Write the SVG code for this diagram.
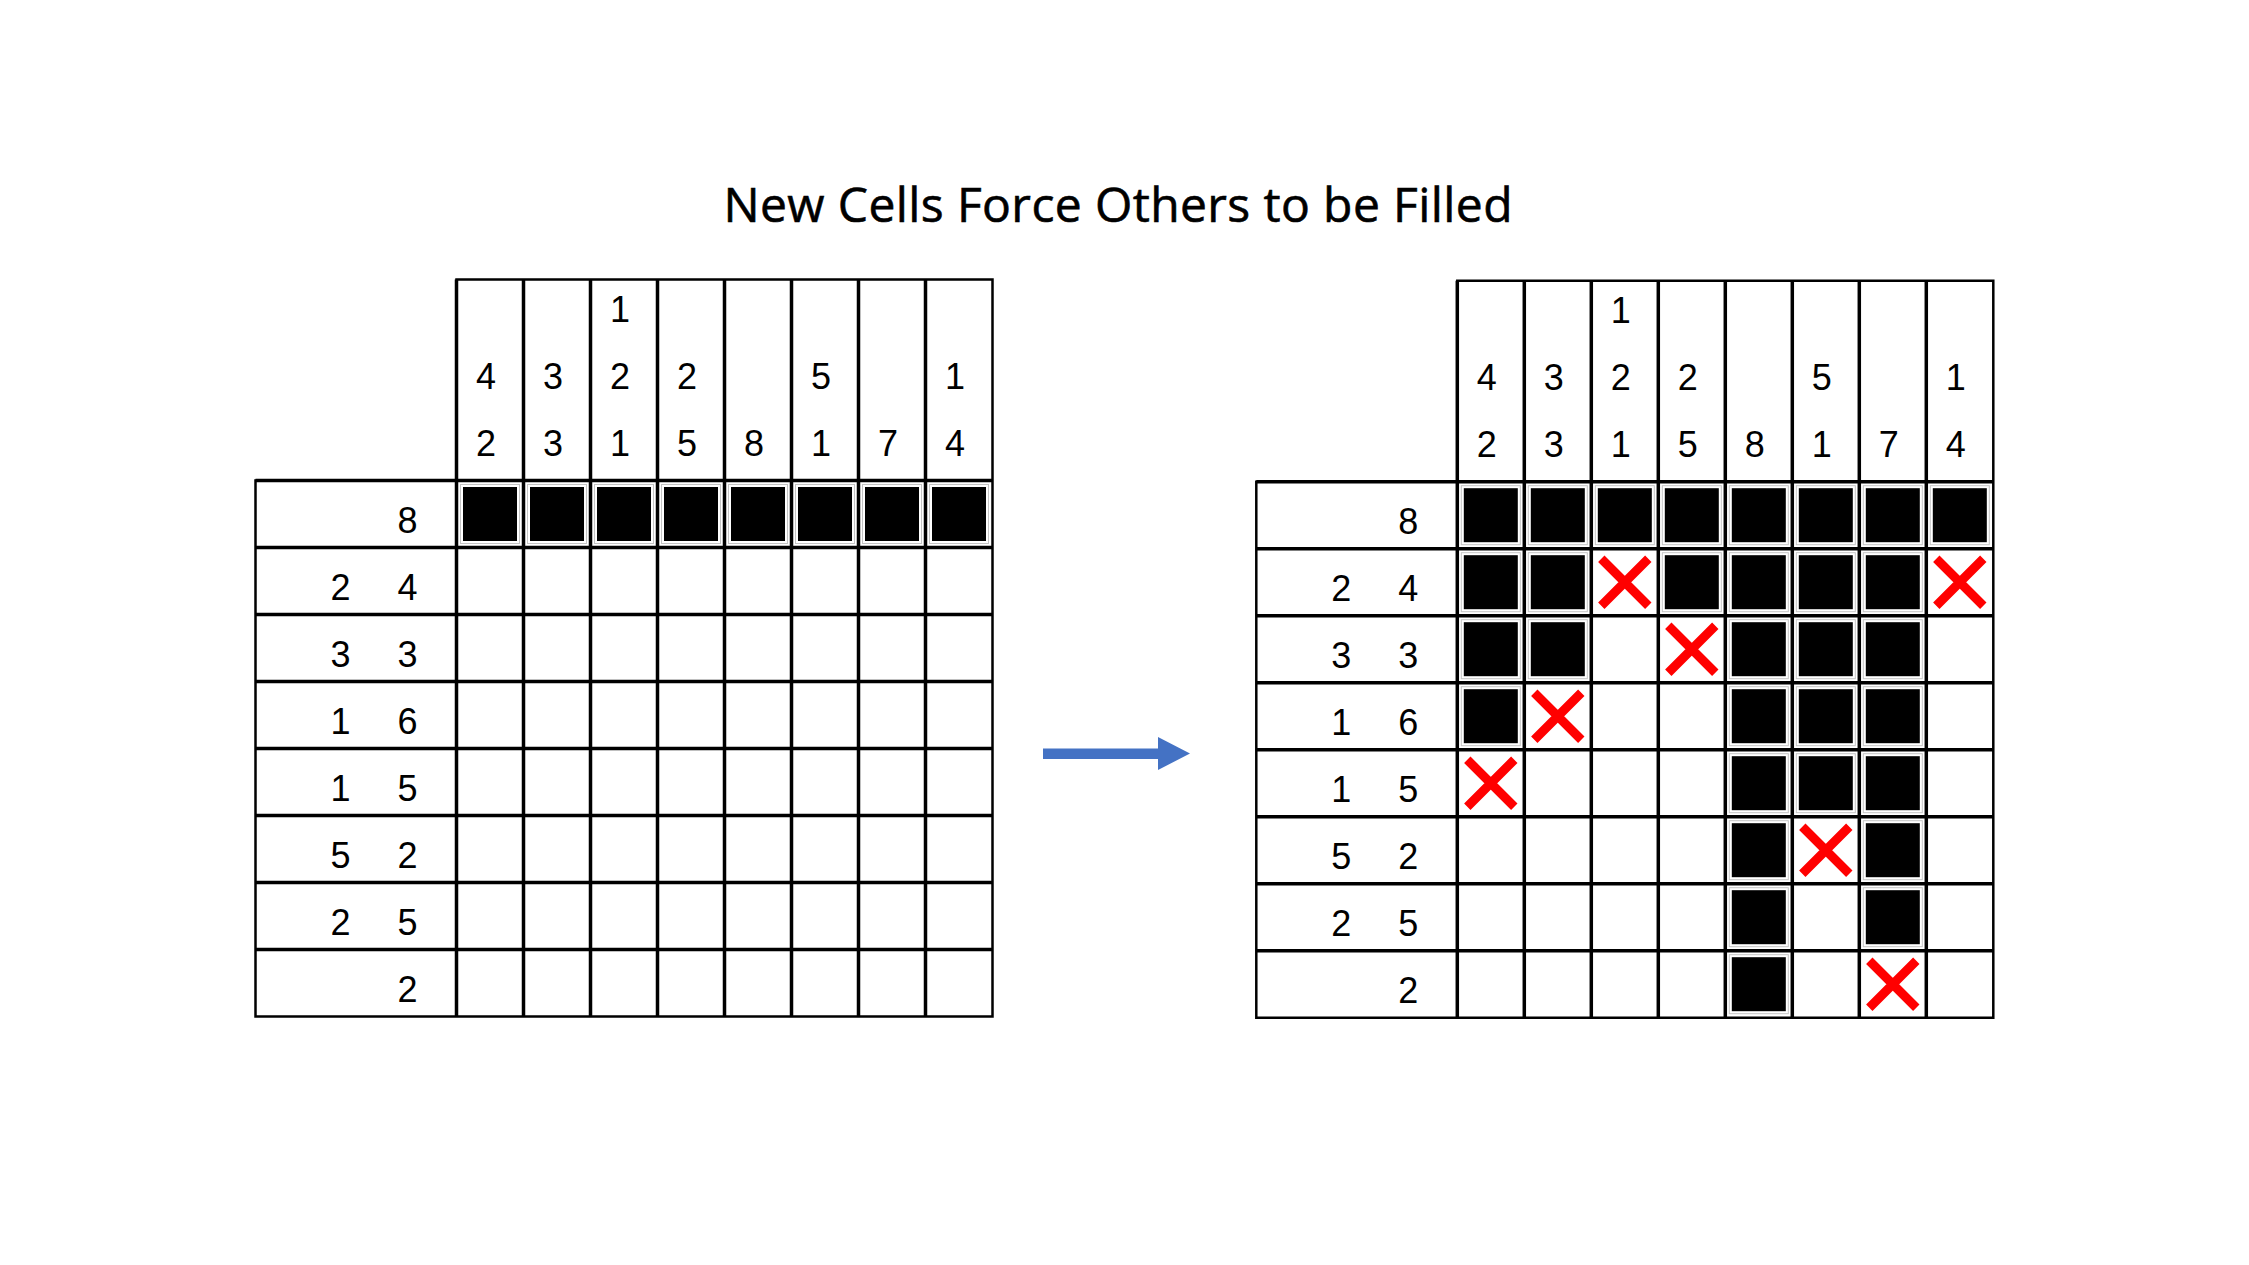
<svg xmlns="http://www.w3.org/2000/svg" xmlns:xlink="http://www.w3.org/1999/xlink" width="2249" height="1265" viewBox="0 0 2249 1265">
<style>
.title{font-family:"Open Sans","Noto Sans",sans-serif;font-size:48px;fill:#000;stroke:#000;stroke-width:0.6;text-anchor:middle}
.clue{font-family:"Liberation Sans",Arial,sans-serif;font-size:36px;fill:#000;text-anchor:middle}
.grid{fill:none;stroke:#000;stroke-width:3.5}
.outer{fill:none;stroke:#000;stroke-width:2.5}
.blk{fill:#000}
.halo{fill:none;stroke:#c4c4c4;stroke-width:1}
.x{fill:none;stroke:#ff0000;stroke-width:9}
.arrow{fill:#4472C4}
</style>
<defs>
<g id="filled"><rect class="halo" x="-29.5" y="-29.5" width="59" height="59"/><rect class="blk" x="-27" y="-27" width="54" height="54"/></g>
<g id="cross"><path class="x" d="M-23.5,-23.5L23.5,23.5M23.5,-23.5L-23.5,23.5"/></g>
<path id="gridlines" class="grid" d="M0,-201V536M67,-201V536M134,-201V536M201,-201V536M268,-201V536M335,-201V536M402,-201V536M469,-201V536M-201,0H536M-201,67H536M-201,134H536M-201,201H536M-201,268H536M-201,335H536M-201,402H536M-201,469H536"/>
</defs>
<rect width="2249" height="1265" fill="#fff"/>
<g id="title"><text class="title" x="1118" y="222" textLength="789">New Cells Force Others to be Filled</text></g>

<g id="grid-before" transform="translate(456.5,480.5)">
<g class="cells">
<use href="#filled" x="33.5" y="33.5"/><use href="#filled" x="100.5" y="33.5"/><use href="#filled" x="167.5" y="33.5"/><use href="#filled" x="234.5" y="33.5"/><use href="#filled" x="301.5" y="33.5"/><use href="#filled" x="368.5" y="33.5"/><use href="#filled" x="435.5" y="33.5"/><use href="#filled" x="502.5" y="33.5"/>
</g>
<use href="#gridlines"/>
<path class="outer" d="M0,-201H536V536H-201V0H0Z"/>
<g class="colclues">
<text class="clue" x="29.5" y="-92">4</text><text class="clue" x="29.5" y="-25">2</text>
<text class="clue" x="96.5" y="-92">3</text><text class="clue" x="96.5" y="-25">3</text>
<text class="clue" x="163.5" y="-159">1</text><text class="clue" x="163.5" y="-92">2</text><text class="clue" x="163.5" y="-25">1</text>
<text class="clue" x="230.5" y="-92">2</text><text class="clue" x="230.5" y="-25">5</text>
<text class="clue" x="297.5" y="-25">8</text>
<text class="clue" x="364.5" y="-92">5</text><text class="clue" x="364.5" y="-25">1</text>
<text class="clue" x="431.5" y="-25">7</text>
<text class="clue" x="498.5" y="-92">1</text><text class="clue" x="498.5" y="-25">4</text>
</g>
<g class="rowclues">
<text class="clue" x="-49" y="52">8</text>
<text class="clue" x="-116" y="119">2</text><text class="clue" x="-49" y="119">4</text>
<text class="clue" x="-116" y="186">3</text><text class="clue" x="-49" y="186">3</text>
<text class="clue" x="-116" y="253">1</text><text class="clue" x="-49" y="253">6</text>
<text class="clue" x="-116" y="320">1</text><text class="clue" x="-49" y="320">5</text>
<text class="clue" x="-116" y="387">5</text><text class="clue" x="-49" y="387">2</text>
<text class="clue" x="-116" y="454">2</text><text class="clue" x="-49" y="454">5</text>
<text class="clue" x="-49" y="521">2</text>
</g>
</g>

<g id="grid-after" transform="translate(1457.3,481.7)">
<g class="cells">
<use href="#filled" x="33.5" y="33.5"/><use href="#filled" x="100.5" y="33.5"/><use href="#filled" x="167.5" y="33.5"/><use href="#filled" x="234.5" y="33.5"/><use href="#filled" x="301.5" y="33.5"/><use href="#filled" x="368.5" y="33.5"/><use href="#filled" x="435.5" y="33.5"/><use href="#filled" x="502.5" y="33.5"/>
<use href="#filled" x="33.5" y="100.5"/><use href="#filled" x="100.5" y="100.5"/><use href="#cross" x="167.5" y="100.5"/><use href="#filled" x="234.5" y="100.5"/><use href="#filled" x="301.5" y="100.5"/><use href="#filled" x="368.5" y="100.5"/><use href="#filled" x="435.5" y="100.5"/><use href="#cross" x="502.5" y="100.5"/>
<use href="#filled" x="33.5" y="167.5"/><use href="#filled" x="100.5" y="167.5"/><use href="#cross" x="234.5" y="167.5"/><use href="#filled" x="301.5" y="167.5"/><use href="#filled" x="368.5" y="167.5"/><use href="#filled" x="435.5" y="167.5"/>
<use href="#filled" x="33.5" y="234.5"/><use href="#cross" x="100.5" y="234.5"/><use href="#filled" x="301.5" y="234.5"/><use href="#filled" x="368.5" y="234.5"/><use href="#filled" x="435.5" y="234.5"/>
<use href="#cross" x="33.5" y="301.5"/><use href="#filled" x="301.5" y="301.5"/><use href="#filled" x="368.5" y="301.5"/><use href="#filled" x="435.5" y="301.5"/>
<use href="#filled" x="301.5" y="368.5"/><use href="#cross" x="368.5" y="368.5"/><use href="#filled" x="435.5" y="368.5"/>
<use href="#filled" x="301.5" y="435.5"/><use href="#filled" x="435.5" y="435.5"/>
<use href="#filled" x="301.5" y="502.5"/><use href="#cross" x="435.5" y="502.5"/>
</g>
<use href="#gridlines"/>
<path class="outer" d="M0,-201H536V536H-201V0H0Z"/>
<g class="colclues">
<text class="clue" x="29.5" y="-92">4</text><text class="clue" x="29.5" y="-25">2</text>
<text class="clue" x="96.5" y="-92">3</text><text class="clue" x="96.5" y="-25">3</text>
<text class="clue" x="163.5" y="-159">1</text><text class="clue" x="163.5" y="-92">2</text><text class="clue" x="163.5" y="-25">1</text>
<text class="clue" x="230.5" y="-92">2</text><text class="clue" x="230.5" y="-25">5</text>
<text class="clue" x="297.5" y="-25">8</text>
<text class="clue" x="364.5" y="-92">5</text><text class="clue" x="364.5" y="-25">1</text>
<text class="clue" x="431.5" y="-25">7</text>
<text class="clue" x="498.5" y="-92">1</text><text class="clue" x="498.5" y="-25">4</text>
</g>
<g class="rowclues">
<text class="clue" x="-49" y="52">8</text>
<text class="clue" x="-116" y="119">2</text><text class="clue" x="-49" y="119">4</text>
<text class="clue" x="-116" y="186">3</text><text class="clue" x="-49" y="186">3</text>
<text class="clue" x="-116" y="253">1</text><text class="clue" x="-49" y="253">6</text>
<text class="clue" x="-116" y="320">1</text><text class="clue" x="-49" y="320">5</text>
<text class="clue" x="-116" y="387">5</text><text class="clue" x="-49" y="387">2</text>
<text class="clue" x="-116" y="454">2</text><text class="clue" x="-49" y="454">5</text>
<text class="clue" x="-49" y="521">2</text>
</g>
</g>

<g id="connectors">
<path class="arrow" d="M1043,748.5H1158V737L1190,753.5L1158,770V759H1043Z"/>
</g>
</svg>
